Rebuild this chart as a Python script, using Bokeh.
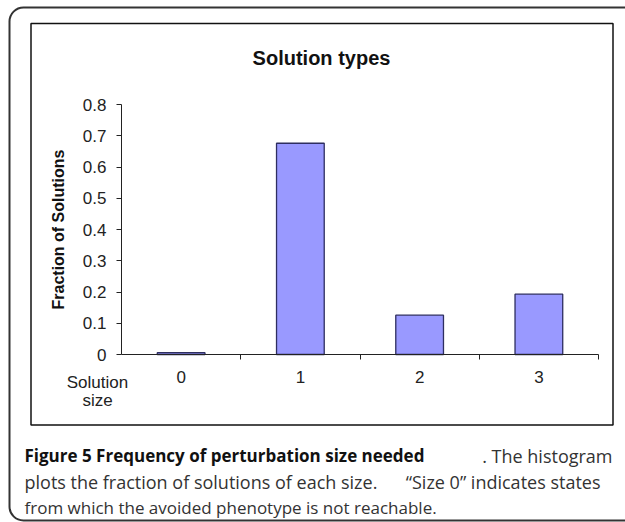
from bokeh.plotting import figure
from bokeh.models import Range1d, FixedTicker, Label, BoxAnnotation, ColumnDataSource
from bokeh.embed import file_html
from bokeh.resources import INLINE

# ---- data ----
sizes = ["0", "1", "2", "3"]
fractions = [0.006, 0.676, 0.126, 0.193]
y_ticks = [0.0, 0.1, 0.2, 0.3, 0.4, 0.5, 0.6, 0.7, 0.8]
y_tick_labels = ["0", "0.1", "0.2", "0.3", "0.4", "0.5", "0.6", "0.7", "0.8"]
title_text = "Solution types"
y_title = "Fraction of Solutions"
x_title_lines = ["Solution", "size"]
caption_bold = "Figure 5 Frequency of perturbation size needed"
caption_rest = ". The histogram"
caption_line2a = "plots the fraction of solutions of each size."
caption_line2b = "\u201cSize 0\u201d indicates states"
caption_line3 = "from which the avoided phenotype is not reachable."

# ---- layout (pixels inside the canvas) ----
W, H = 625, 522
AX_L, AX_R, AX_T, AX_B = 121, 598, 104, 354   # plotting area of the chart
Y_MAX = 0.8
n = len(sizes)
kx = (AX_R - AX_L) / n          # px per category
ky = (AX_B - AX_T) / Y_MAX      # px per unit fraction

x_range = Range1d(-AX_L / kx, (W - AX_L) / kx)
y_range = Range1d(-(H - AX_B) / ky, AX_B / ky)

centers = [i + 0.5 for i in range(n)]
bounds = [i + 1 for i in range(n)]
src = ColumnDataSource(dict(x=centers, top=fractions, size=sizes))

p = figure(width=W, height=H, x_range=x_range, y_range=y_range,
           output_backend="svg", toolbar_location=None, min_border=0)
p.outline_line_color = None
p.xgrid.visible = False
p.ygrid.visible = False
p.background_fill_color = "white"
p.border_fill_color = "white"

p.vbar(x="x", top="top", bottom=0, width=0.4, source=src,
       fill_color="#9999ff", line_color="#2e2e60", line_width=1.3)

FONT = "Liberation Sans"

xa = p.xaxis[0]
xa.fixed_location = 0
xa.bounds = (0, n)
xa.ticker = FixedTicker(ticks=centers, minor_ticks=bounds)
xa.major_label_overrides = {c: s for c, s in zip(centers, sizes)}
xa.major_tick_line_color = None
xa.major_tick_out = 0
xa.major_tick_in = 0
xa.minor_tick_out = 5
xa.minor_tick_in = 0
xa.minor_tick_line_color = "#222222"
xa.axis_line_color = "#222222"
xa.major_label_standoff = 11
xa.major_label_text_font = FONT
xa.major_label_text_font_size = "17px"
xa.major_label_text_color = "#222222"

ya = p.yaxis[0]
ya.fixed_location = 0
ya.bounds = (0, Y_MAX)
ya.ticker = FixedTicker(ticks=y_ticks)
ya.major_label_overrides = {t: s for t, s in zip(y_ticks, y_tick_labels)}
ya.minor_tick_line_color = None
ya.major_tick_out = 5
ya.major_tick_in = 0
ya.major_tick_line_color = "#222222"
ya.axis_line_color = "#222222"
ya.major_label_standoff = 10
ya.major_label_text_font = FONT
ya.major_label_text_font_size = "17px"
ya.major_label_text_color = "#222222"
ya.axis_label = y_title
ya.axis_label_text_font = FONT
ya.axis_label_text_font_style = "bold"
ya.axis_label_text_font_size = "16px"
ya.axis_label_text_color = "#111111"
ya.axis_label_standoff = 13


def sx(fx):
    return fx


def sy(fy):
    return H - fy


def box(l, r, t, b, **kw):
    p.add_layout(BoxAnnotation(left=sx(l), right=sx(r), top=sy(t), bottom=sy(b),
                               left_units="screen", right_units="screen",
                               top_units="screen", bottom_units="screen",
                               fill_color=None, fill_alpha=0, line_alpha=1.0, **kw))


# outer rounded frame (runs off the right edge) and inner chart box
box(9, 670, 7, 520, line_color="#333333", line_width=2, border_radius=14)
box(30.5, 612.5, 23, 424.5, line_color="#111111", line_width=1.5)


def lab(text, fx, fy, **kw):
    base = dict(x=sx(fx), y=sy(fy), x_units="screen", y_units="screen", text=text,
                text_font=FONT, text_font_size="16px", text_color="#222222",
                text_baseline="alphabetic", text_align="left")
    base.update(kw)
    p.add_layout(Label(**base))


lab(title_text, 321, 57, text_align="center", text_font_style="bold",
    text_font_size="20px", text_color="#111111")
lab(x_title_lines[0], 97, 382, text_align="center", text_font_size="17px")
lab(x_title_lines[1], 97, 400, text_align="center", text_font_size="17px")

CAP = "Open Sans"
lab(caption_bold, 24, 455, text_font=CAP, text_font_style="bold",
    text_font_size="17px", text_color="#111111")
lab(caption_rest, 612, 455, text_font=CAP, text_align="right",
    text_font_size="18px", text_color="#333333")
lab(caption_line2a, 24, 481, text_font=CAP, text_font_size="18px", text_color="#333333")
lab(caption_line2b, 600, 481, text_font=CAP, text_align="right",
    text_font_size="18px", text_color="#333333")
lab(caption_line3, 24, 507, text_font=CAP, text_font_size="17px", text_color="#333333")

open("out.html", "w").write(file_html(p, INLINE))
